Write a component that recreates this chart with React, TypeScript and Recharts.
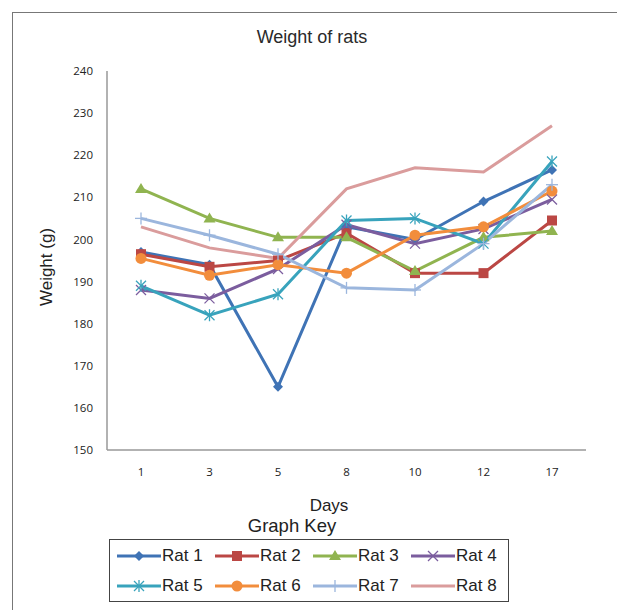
import React from "react";
import { LineChart, Line, XAxis, YAxis, Legend } from "recharts";

const DAYS = ["1", "3", "5", "8", "10", "12", "17"];
const RAT_1 = [197, 194, 165, 203, 200, 209, 216.5];
const RAT_2 = [196.5, 193.5, 195, 201.5, 192, 192, 204.5];
const RAT_3 = [212, 205, 200.5, 200.5, 192.5, 200.5, 202];
const RAT_4 = [188, 186, 193, 203.5, 199, 202.5, 209.5];
const RAT_5 = [189, 182, 187, 204.5, 205, 199, 218.5];
const RAT_6 = [195.5, 191.5, 194, 192, 201, 203, 211.5];
const RAT_7 = [205, 201, 196.5, 188.5, 188, 199, 213];
const RAT_8 = [203, 198, 195.5, 212, 217, 216, 227];
const Y_TICKS = [150, 160, 170, 180, 190, 200, 210, 220, 230, 240];

type Shape = "diamond" | "square" | "triangle" | "x" | "star" | "circle" | "plus" | "none";

const SERIES: { key: string; name: string; color: string; shape: Shape; values: number[] }[] = [
  { key: "rat1", name: "Rat 1", color: "#3F73B5", shape: "diamond", values: RAT_1 },
  { key: "rat2", name: "Rat 2", color: "#BB4744", shape: "square", values: RAT_2 },
  { key: "rat3", name: "Rat 3", color: "#90B450", shape: "triangle", values: RAT_3 },
  { key: "rat4", name: "Rat 4", color: "#7B5D9E", shape: "x", values: RAT_4 },
  { key: "rat5", name: "Rat 5", color: "#38A3BC", shape: "star", values: RAT_5 },
  { key: "rat6", name: "Rat 6", color: "#F28D3C", shape: "circle", values: RAT_6 },
  { key: "rat7", name: "Rat 7", color: "#9BB6DD", shape: "plus", values: RAT_7 },
  { key: "rat8", name: "Rat 8", color: "#DA9C9C", shape: "none", values: RAT_8 },
];

const data = DAYS.map((day, i) => {
  const row: Record<string, string | number> = { day };
  SERIES.forEach((s) => (row[s.key] = s.values[i]));
  return row;
});

function marker(shape: Shape, color: string, cx: number, cy: number, key?: React.Key) {
  switch (shape) {
    case "diamond":
      return <polygon key={key} points={`${cx},${cy - 5} ${cx + 5},${cy} ${cx},${cy + 5} ${cx - 5},${cy}`} fill={color} />;
    case "square":
      return <rect key={key} x={cx - 5} y={cy - 5} width={10} height={10} fill={color} />;
    case "triangle":
      return <polygon key={key} points={`${cx},${cy - 6} ${cx + 6},${cy + 4} ${cx - 6},${cy + 4}`} fill={color} />;
    case "circle":
      return <circle key={key} cx={cx} cy={cy} r={5.5} fill={color} />;
    case "x":
      return (
        <g key={key} stroke={color} strokeWidth={1.3}>
          <line x1={cx - 5} y1={cy - 5} x2={cx + 5} y2={cy + 5} />
          <line x1={cx - 5} y1={cy + 5} x2={cx + 5} y2={cy - 5} />
        </g>
      );
    case "star":
      return (
        <g key={key} stroke={color} strokeWidth={1.3}>
          <line x1={cx - 5} y1={cy - 5} x2={cx + 5} y2={cy + 5} />
          <line x1={cx - 5} y1={cy + 5} x2={cx + 5} y2={cy - 5} />
          <line x1={cx} y1={cy - 6} x2={cx} y2={cy + 6} />
        </g>
      );
    case "plus":
      return (
        <g key={key} stroke={color} strokeWidth={1.3}>
          <line x1={cx - 6} y1={cy} x2={cx + 6} y2={cy} />
          <line x1={cx} y1={cy - 6} x2={cx} y2={cy + 6} />
        </g>
      );
    default:
      return <g key={key} />;
  }
}

const makeDot = (shape: Shape, color: string) => (props: any) =>
  marker(shape, color, props.cx, props.cy, props.index);

const textFont = "'Liberation Sans', Arial, sans-serif";
const tickStyle = { fontSize: 11.5, fill: "#222", fontFamily: "'Open Sans', sans-serif" };

function GraphKey() {
  const rows = [SERIES.slice(0, 4), SERIES.slice(4)];
  return (
    <div
      style={{
        width: 400,
        height: 63,
        boxSizing: "border-box",
        border: "1.5px solid #444",
        fontFamily: textFont,
        fontSize: 17,
        color: "#222",
        padding: "0 0 0 6px",
      }}
    >
      {rows.map((row, r) => (
        <div key={r} style={{ display: "flex", height: 30, alignItems: "center", marginTop: r === 0 ? 1 : 0 }}>
          {row.map((s) => (
            <div key={s.key} style={{ display: "flex", alignItems: "center", width: 98 }}>
              <svg width={46} height={16}>
                <line x1={1} y1={8} x2={45} y2={8} stroke={s.color} strokeWidth={3} />
                {marker(s.shape, s.color, 23, 8)}
              </svg>
              <span>{s.name}</span>
            </div>
          ))}
        </div>
      ))}
    </div>
  );
}

export default function App() {
  return (
    <div style={{ position: "absolute", left: 0, top: 0, width: 617, height: 610, background: "#fff", overflow: "hidden" }}>
      <div
        style={{
          position: "absolute",
          left: 12,
          top: 12,
          width: 620,
          height: 620,
          borderLeft: "1.5px solid #777",
          borderTop: "1.5px solid #777",
        }}
      />
      <div style={{ position: "absolute", left: 312, top: 37, transform: "translate(-50%, -50%)", whiteSpace: "nowrap", fontFamily: textFont, fontSize: 18, color: "#2a2a2a" }}>
        Weight of rats
      </div>
      <div
        style={{
          position: "absolute",
          left: 47,
          top: 267,
          transform: "translate(-50%, -50%) rotate(-90deg)",
          whiteSpace: "nowrap",
          fontFamily: textFont,
          fontSize: 17,
          color: "#222",
        }}
      >
        Weight (g)
      </div>
      <div style={{ position: "absolute", left: 329, top: 506, transform: "translate(-50%, -50%)", fontFamily: textFont, fontSize: 17, color: "#222" }}>
        Days
      </div>
      <div style={{ position: "absolute", left: 292, top: 526, transform: "translate(-50%, -50%)", fontFamily: textFont, fontSize: 18.5, color: "#222", whiteSpace: "nowrap" }}>
        Graph Key
      </div>
      <div style={{ position: "absolute", left: 0, top: 0 }}>
        <LineChart width={617} height={610} data={data} margin={{ top: 71, right: 31, bottom: 130, left: 0 }}>
          <XAxis
            dataKey="day"
            height={30}
            padding={{ left: 34, right: 34 }}
            axisLine={{ stroke: "#999", strokeWidth: 1.5 }}
            tickLine={false}
            tickSize={0}
            tickMargin={18}
            tick={tickStyle}
          />
          <YAxis
            width={107}
            domain={[150, 240]}
            ticks={Y_TICKS}
            interval={0}
            axisLine={{ stroke: "#999", strokeWidth: 1.5 }}
            tickLine={false}
            tickSize={0}
            tickMargin={14}
            tick={tickStyle}
          />
          <Legend
            layout="horizontal"
            verticalAlign="middle"
            align="center"
            wrapperStyle={{ position: "absolute", left: 109, top: 539, width: 400, height: 63 }}
            content={() => <GraphKey />}
          />
          {SERIES.map((s) => (
            <Line
              key={s.key}
              dataKey={s.key}
              name={s.name}
              type="linear"
              stroke={s.color}
              strokeWidth={3}
              dot={makeDot(s.shape, s.color)}
              activeDot={false}
              isAnimationActive={false}
            />
          ))}
        </LineChart>
      </div>
    </div>
  );
}
